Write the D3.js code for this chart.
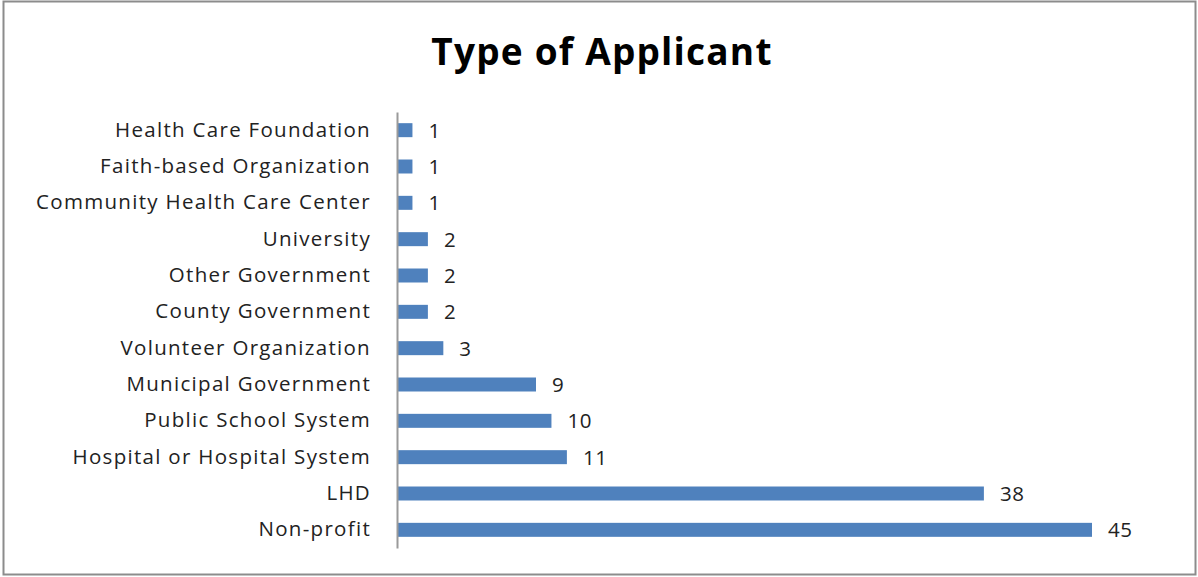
<!DOCTYPE html>
<html><head><meta charset="utf-8">
<script src="https://cdn.jsdelivr.net/npm/d3@7"></script>
<style>body{margin:0;background:#fff;} svg{display:block;}</style>
</head><body>
<svg id="c" width="1198" height="577"></svg>
<script>
const categories = ["Health Care Foundation","Faith-based Organization","Community Health Care Center","University","Other Government","County Government","Volunteer Organization","Municipal Government","Public School System","Hospital or Hospital System","LHD","Non-profit"];
const values = [1,1,1,2,2,2,3,9,10,11,38,45];
const title = "Type of Applicant";

const svg = d3.select("#c");
svg.append("rect").attr("x",3.5).attr("y",1.5).attr("width",1192).attr("height",573)
  .attr("fill","#fff").attr("stroke","#8c8c8c").attr("stroke-width",2);

svg.append("text").attr("x",602).attr("y",65).attr("text-anchor","middle")
  .attr("font-family","'Open Sans', sans-serif").attr("font-weight","bold").attr("font-size",37)
  .attr("letter-spacing",1.2).attr("fill","#000").text(title);

const x = d3.scaleLinear().domain([0,45]).range([397,1092]);
const y = d3.scaleBand().domain(categories).range([112,548]).paddingInner(0.615).paddingOuter(0.3075);

const font = "'Open Sans', sans-serif";
svg.selectAll("rect.bar").data(categories).join("rect").attr("class","bar")
  .attr("x",x(0)).attr("y",d=>y(d)).attr("width",(d,i)=>x(values[i])-x(0)).attr("height",y.bandwidth())
  .attr("fill","#4F81BD");

svg.selectAll("text.val").data(categories).join("text").attr("class","val")
  .attr("x",(d,i)=>x(values[i])+16).attr("y",d=>y(d)+y.bandwidth()/2).attr("dy","0.36em")
  .attr("font-family",font).attr("font-size",20.5).attr("letter-spacing",0.6).attr("fill","#222").text((d,i)=>values[i]);

const ax = d3.axisLeft(y).tickSize(0).tickPadding(26);
const g = svg.append("g").attr("transform",`translate(${x(0)},0)`).call(ax);
g.select(".domain").attr("stroke","#9a9a9a").attr("stroke-width",2);
g.selectAll("text").attr("font-family",font).attr("font-size",20.5).attr("letter-spacing",1.3).attr("fill","#222");
</script>
</body></html>
